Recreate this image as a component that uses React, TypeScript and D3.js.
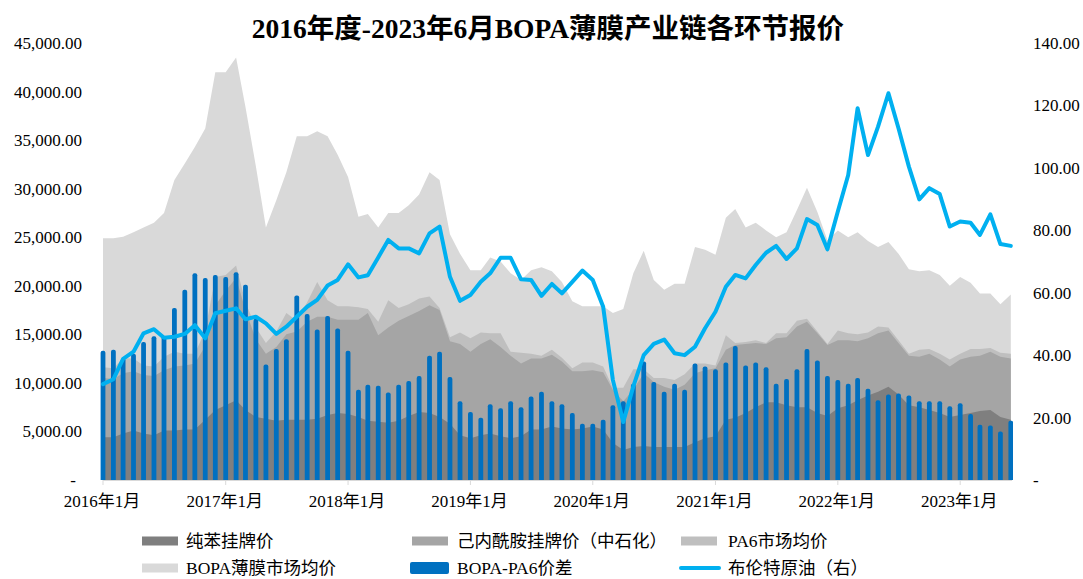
import React from 'react';
import * as d3 from 'd3';

// ---------- data (monthly, 2016-01 .. 2023-06) ----------
const startMonth = new Date(2016, 0, 1);
const endMonthExclusive = new Date(2023, 6, 1);
const months: Date[] = d3.timeMonth.range(startMonth, endMonthExclusive);

const bopaPrice = [24900, 24900, 25050, 25500, 26000, 26500, 27500, 30900, 32600, 34300, 36200, 42000, 42000, 43500, 38400, 32300, 26000, 28800, 31700, 35400, 35400, 35900, 35400, 33500, 31200, 27100, 27400, 26000, 27500, 27500, 28300, 29400, 31700, 30900, 25300, 23300, 21600, 21600, 22900, 22500, 21300, 20600, 21600, 21900, 21500, 20400, 18400, 17900, 17900, 17900, 17200, 17600, 21300, 23600, 20600, 19600, 20200, 20200, 24000, 23700, 23200, 27000, 27900, 26000, 26500, 25700, 25000, 25500, 27800, 30100, 27600, 24700, 25700, 25000, 25500, 24600, 24000, 24500, 23300, 21700, 21500, 21600, 21100, 20000, 20900, 20300, 19200, 19200, 18100, 19100];

const pa6Price = [11600, 11500, 12550, 12500, 11800, 11700, 12700, 13200, 13000, 13000, 15400, 20900, 21100, 22100, 18300, 15700, 14100, 15300, 17200, 16400, 18300, 20400, 18500, 17900, 17900, 17800, 17600, 16300, 18500, 17700, 18100, 18700, 18900, 17700, 14700, 15200, 14600, 15200, 15100, 15100, 13200, 13100, 13000, 12800, 13400, 12600, 11500, 12100, 12100, 11700, 9500, 9500, 11400, 11400, 10500, 10500, 10300, 10900, 12000, 12000, 11800, 14900, 14100, 14200, 14400, 14100, 15100, 15100, 16400, 16600, 15300, 14000, 15400, 15100, 15000, 15200, 15800, 15700, 14400, 13000, 13400, 13500, 13000, 12400, 13000, 13500, 13500, 13600, 13100, 13000];

const caprolactamPrice = [10500, 10400, 11000, 11200, 10800, 10700, 11300, 11700, 11800, 12000, 13800, 18000, 19500, 20800, 17500, 14500, 13000, 13700, 15000, 15300, 16300, 16800, 16800, 16500, 16500, 16500, 17200, 14900, 15700, 16400, 16900, 17400, 18000, 17500, 14300, 14000, 13200, 14000, 14500, 13700, 12800, 12000, 12500, 12500, 12900, 12200, 11200, 11200, 11300, 11100, 9300, 8100, 9300, 11000, 10100, 9600, 9300, 9800, 11000, 11300, 11500, 13400, 13900, 14000, 14100, 14000, 14600, 14700, 15800, 16300, 15100, 13900, 14400, 14400, 14300, 14600, 15100, 15400, 14100, 12800, 12700, 13000, 12400, 11700, 12400, 12700, 12800, 13200, 12700, 12500];

const benzenePrice = [4400, 4400, 4800, 5100, 4800, 4600, 5100, 5100, 5200, 5200, 6200, 7200, 7700, 8200, 7200, 6500, 6300, 6100, 6200, 6200, 6200, 6300, 6700, 6900, 6800, 6500, 6100, 6000, 5900, 6100, 6600, 7000, 6900, 6500, 5800, 4600, 4300, 4600, 4800, 4500, 4300, 4500, 5200, 5200, 5500, 5300, 5200, 5300, 5500, 5200, 3800, 3100, 3400, 3500, 3400, 3400, 3400, 3400, 3900, 4300, 4500, 6200, 6400, 6900, 7500, 8000, 8000, 7700, 7500, 7500, 6900, 6600, 7400, 7700, 8200, 8700, 9100, 9600, 8800, 7700, 7500, 7200, 6900, 6500, 6700, 6900, 7100, 7200, 6500, 6200];

const spread = [13300, 13400, 12500, 13000, 14200, 14800, 14800, 17700, 19600, 21300, 20800, 21100, 20900, 21400, 20100, 16600, 11900, 13500, 14500, 19000, 17100, 15500, 16900, 15600, 13300, 9300, 9800, 9700, 9000, 9800, 10200, 10700, 12800, 13200, 10600, 8100, 7000, 6400, 7800, 7400, 8100, 7500, 8600, 9100, 8100, 7800, 6900, 5800, 5800, 6200, 7700, 8100, 9900, 12200, 10100, 9100, 9900, 9300, 12000, 11700, 11400, 12100, 13800, 11800, 12100, 11600, 9900, 10400, 11400, 13500, 12300, 10700, 10300, 9900, 10500, 9400, 8200, 8800, 8900, 8700, 8100, 8100, 8100, 7600, 7900, 6800, 5700, 5600, 5000, 6100];

const brentOil = [30.7, 32.3, 38.8, 41.1, 47, 48.3, 45.6, 45.9, 46.8, 49.6, 45.4, 53.4, 54.2, 55, 51.5, 52.3, 50.2, 46.8, 49.1, 52.3, 55.5, 57.7, 62.3, 64.1, 69.1, 64.9, 65.6, 71.3, 76.9, 74.2, 74.2, 72.6, 79, 81.2, 65.1, 57.4, 59.3, 63.5, 66.2, 71.2, 71.2, 64.3, 64.1, 59, 62.8, 59.8, 63.5, 67.1, 64.1, 55.5, 32, 18.6, 30, 40, 43.6, 45, 40.6, 40, 42.7, 48.6, 53.9, 61.9, 65.7, 64.6, 68.9, 72.8, 75, 70.8, 74.2, 83.6, 81.7, 73.9, 86, 97.7, 119.1, 104.1, 113.2, 123.9, 112.7, 100.4, 89.9, 93.5, 91.6, 81.2, 82.8, 82.4, 78.5, 85.1, 75.6, 75];

const xTickDates = [2016, 2017, 2018, 2019, 2020, 2021, 2022, 2023].map((yr) => new Date(yr, 0, 1));
const xTickLabels = ['2016年1月', '2017年1月', '2018年1月', '2019年1月', '2020年1月', '2021年1月', '2022年1月', '2023年1月'];
const leftTicks = [0, 5000, 10000, 15000, 20000, 25000, 30000, 35000, 40000, 45000];
const rightTicks = [0, 20, 40, 60, 80, 100, 120, 140];

const title = '2016年度-2023年6月BOPA薄膜产业链各环节报价';

// ---------- layout ----------
const W = 1083;
const H = 579;
const left = 103;
const right = 1010.8;
const top = 43;
const bottom = 480;

const serif = '"Liberation Serif", "Times New Roman", "Noto Sans CJK SC", serif';

const COLORS = {
  benzene: '#7f7f7f',
  cpl: '#a5a5a5',
  pa6: '#bfbfbf',
  bopa: '#d9d9d9',
  bar: '#0070c0',
  oil: '#00b0f0',
};

function roundTopBar(x: number, y: number, w: number, h: number, r: number) {
  const rr = Math.min(r, w / 2, h);
  return `M${x},${y + h}V${y + rr}Q${x},${y} ${x + rr},${y}H${x + w - rr}Q${x + w},${y} ${x + w},${y + rr}V${y + h}Z`;
}

export default function App() {
  const x = d3.scaleTime().domain([months[0], months[months.length - 1]]).range([left, right]);
  const y = d3.scaleLinear().domain([0, 45000]).range([bottom, top]);
  const y2 = d3.scaleLinear().domain([0, 140]).range([bottom, top]);

  const mkArea = (vals: number[]) =>
    d3
      .area<number>()
      .x((_, i) => x(months[i]))
      .y0(y(0))
      .y1((d) => y(d))(vals) || '';

  const oilLine =
    d3
      .line<number>()
      .x((_, i) => x(months[i]))
      .y((d) => y2(d))(brentOil) || '';

  const fmtL = d3.format(',.2f');
  const fmtR = d3.format('.2f');
  const barW = 4.8;

  const legendItems = [
    { label: '纯苯挂牌价', kind: 'rect', color: COLORS.benzene, sx: 142, tx: 186, row: 0 },
    { label: '己内酰胺挂牌价（中石化）', kind: 'rect', color: COLORS.cpl, sx: 412, tx: 457, row: 0 },
    { label: 'PA6市场均价', kind: 'rect', color: COLORS.pa6, sx: 681, tx: 728, row: 0 },
    { label: 'BOPA薄膜市场均价', kind: 'rect', color: COLORS.bopa, sx: 142, tx: 186, row: 1 },
    { label: 'BOPA-PA6价差', kind: 'bar', color: COLORS.bar, sx: 410, tx: 457, row: 1 },
    { label: '布伦特原油（右）', kind: 'line', color: COLORS.oil, sx: 681, tx: 728, row: 1 },
  ];
  const rowY = [541, 568];

  return (
    <svg
      width={W}
      height={H}
      viewBox={`0 0 ${W} ${H}`}
      style={{ position: 'absolute', left: 0, top: 0, display: 'block', background: '#fff' }}
    >
      <defs>
        <clipPath id="plotClip">
          <rect x={98} y={0} width={1013 - 98} height={bottom} />
        </clipPath>
      </defs>
      <rect x={0} y={0} width={W} height={H} fill="#ffffff" />

      <text
        x={548}
        y={38}
        textAnchor="middle"
        fontFamily={serif}
        fontWeight="bold"
        fontSize={27.5}
        fill="#000"
      >
        {title}
      </text>

      {/* areas */}
      <g>
        <path d={mkArea(bopaPrice)} fill={COLORS.bopa} />
        <path d={mkArea(pa6Price)} fill={COLORS.pa6} />
        <path d={mkArea(caprolactamPrice)} fill={COLORS.cpl} />
        <path d={mkArea(benzenePrice)} fill={COLORS.benzene} />
      </g>

      {/* bars */}
      <g clipPath="url(#plotClip)">
        {spread.map((v, i) => {
          const cx = x(months[i]);
          const yt = y(v);
          return <path key={i} d={roundTopBar(cx - barW / 2, yt, barW, bottom - yt, 2)} fill={COLORS.bar} />;
        })}
      </g>

      {/* x axis */}
      <line x1={left} x2={1012} y1={bottom + 0.5} y2={bottom + 0.5} stroke="#d9d9d9" strokeWidth={1} />
      {xTickDates.map((d, i) => (
        <g key={i}>
          <line x1={x(d)} x2={x(d)} y1={bottom} y2={bottom + 5} stroke="#d9d9d9" strokeWidth={1} />
          <text x={x(d) - 1} y={507} textAnchor="middle" fontFamily={serif} fontSize={17} fill="#000">
            {xTickLabels[i]}
          </text>
        </g>
      ))}

      {/* oil line */}
      <path d={oilLine} fill="none" stroke={COLORS.oil} strokeWidth={4} strokeLinejoin="round" strokeLinecap="round" />

      {/* left axis labels */}
      {leftTicks.map((t) => (
        <text
          key={t}
          x={t === 0 ? 76 : 82}
          y={y(t)}
          dy="0.35em"
          textAnchor="end"
          fontFamily={serif}
          fontSize={17}
          fill="#000"
        >
          {t === 0 ? '-' : fmtL(t)}
        </text>
      ))}

      {/* right axis labels */}
      {rightTicks.map((t) => (
        <text
          key={t}
          x={1033}
          y={y2(t)}
          dy="0.35em"
          textAnchor="start"
          fontFamily={serif}
          fontSize={17}
          fill="#000"
        >
          {t === 0 ? '-' : fmtR(t)}
        </text>
      ))}

      {/* legend */}
      {legendItems.map((it, i) => {
        const cy = rowY[it.row];
        return (
          <g key={i}>
            {it.kind === 'rect' && <rect x={it.sx} y={cy - 4.5} width={36} height={9} fill={it.color} />}
            {it.kind === 'bar' && <rect x={it.sx} y={cy - 6} width={39} height={12} rx={2} fill={it.color} />}
            {it.kind === 'line' && (
              <line x1={it.sx} x2={it.sx + 38} y1={cy} y2={cy} stroke={it.color} strokeWidth={4} strokeLinecap="round" />
            )}
            <text x={it.tx} y={cy} dy="0.35em" fontFamily={serif} fontSize={17.5} fill="#000">
              {it.label}
            </text>
          </g>
        );
      })}
    </svg>
  );
}
